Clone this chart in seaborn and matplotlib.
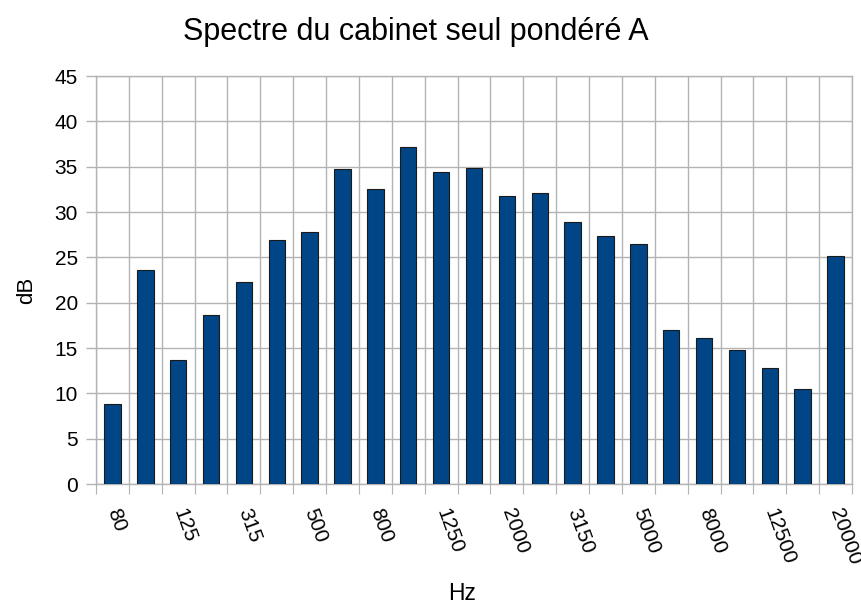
import numpy as np
import pandas as pd
import seaborn as sns
import matplotlib.pyplot as plt
from matplotlib.ticker import MultipleLocator, FixedLocator

freqs = ["80", "100", "125", "250", "315", "400", "500", "630", "800", "1000",
         "1250", "1600", "2000", "2500", "3150", "4000", "5000", "6300",
         "8000", "10000", "12500", "16000", "20000"]
niveaux = [8.8, 23.6, 13.7, 18.6, 22.3, 26.9, 27.8, 34.7, 32.5, 37.2,
           34.4, 34.9, 31.8, 32.1, 28.9, 27.3, 26.5, 17.0, 16.1, 14.8,
           12.8, 10.5, 25.1]

df = pd.DataFrame({"Hz": freqs, "dB": niveaux})

sns.set_theme(style="white")
plt.rcParams["font.family"] = ["Liberation Sans", "DejaVu Sans"]
plt.rcParams["text.color"] = "black"
plt.rcParams["xtick.labelcolor"] = "black"
plt.rcParams["ytick.labelcolor"] = "black"

fig = plt.figure(figsize=(8.62, 6.05), dpi=100)
ax = fig.add_axes([96 / 862, 1 - 484 / 605, 756 / 862, 408 / 605])

sns.barplot(data=df, x="Hz", y="dB", color="#004586", saturation=1,
            width=0.5, edgecolor="#1a1a1a", linewidth=0.8, ax=ax, zorder=3)

ax.set_ylim(0, 45)
ax.set_xlim(-0.5, len(freqs) - 0.5)
ax.yaxis.set_major_locator(MultipleLocator(5))

# grille verticale aux limites des catégories
ax.xaxis.set_minor_locator(FixedLocator(np.arange(-0.5, len(freqs), 1)))
ax.grid(True, which="minor", axis="x", color="#b3b3b3", lw=1, zorder=0)
ax.grid(True, which="major", axis="y", color="#b3b3b3", lw=1, zorder=0)

# une étiquette sur deux
labels = [f if i % 2 == 0 else "" for i, f in enumerate(freqs)]
ax.set_xticks(range(len(freqs)))
ax.set_xticklabels(labels, rotation=-70, ha="left", va="center",
                   rotation_mode="anchor", fontsize=15, color="black")
ax.tick_params(axis="x", which="major", length=0, pad=18)
ax.tick_params(axis="x", which="minor", length=7, width=0.8, color="#b3b3b3",
               direction="out", bottom=True)
ax.tick_params(axis="y", length=7, width=1, color="#b3b3b3", left=True,
               labelsize=15, labelcolor="black", pad=6)

for s in ax.spines.values():
    s.set_color("#b3b3b3")
    s.set_linewidth(1)

ax.set_xlabel("")
ax.set_ylabel("")
fig.text(27 / 862, 1 - 290 / 605, "dB", rotation=90, ha="center", va="center",
         fontsize=16, color="black")
fig.text(462 / 862, 1 - 600 / 605, "Hz", ha="center", va="baseline",
         fontsize=16.5, color="black")
fig.text(416 / 862, 1 - 40 / 605, "Spectre du cabinet seul pondéré A",
         ha="center", va="baseline", fontsize=22, color="black")

fig.savefig("out.png", dpi=100)
